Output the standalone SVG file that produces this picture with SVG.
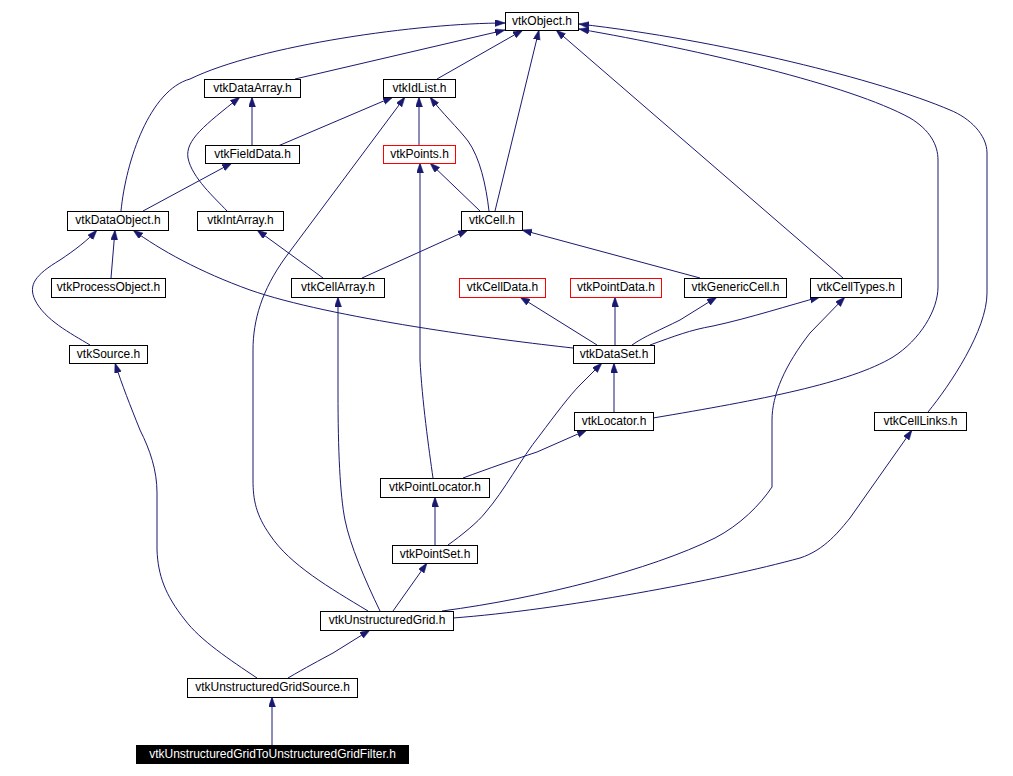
<svg xmlns="http://www.w3.org/2000/svg" width="1013" height="776" viewBox="0 0 1013 776">
<style>
.n rect{fill:#fff;stroke:#000;stroke-width:1}
.n.r rect{stroke:#f00}
.n text{font-family:"Liberation Sans",Arial,sans-serif;font-size:12px;text-anchor:middle;fill:#000}
.n.k rect{fill:#000;stroke:#000}
.n.k text{fill:#fff}
#edges path{fill:none;stroke:#191970;stroke-width:1;marker-end:url(#a)}
</style>
<defs>
<marker id="a" markerUnits="userSpaceOnUse" markerWidth="11" markerHeight="8" refX="10" refY="3.5" orient="auto">
<path d="M0,0 L10,3.5 L0,7 z" fill="#191970" stroke="#191970" stroke-width="0.5"/>
</marker>
</defs>
<rect width="1013" height="776" fill="#fff"/>
<g id="edges">
<path d="M121,211 C126,160 150,90 190,79 C260,45 420,23 505,23"/>
<path d="M295,79 L505,30"/>
<path d="M437,79 L523,30"/>
<path d="M495,211 L539,30"/>
<path d="M843,278 L556,30"/>
<path d="M653,418 C760,400 850,383 893,357 C920,340 938,310 938,287 L938,160 C938,145 930,130 910,118 C850,85 700,50 579,29"/>
<path d="M928,412 C950,385 987,330 987,293 L987,153 C987,135 970,118 950,110 C880,80 720,40 579,24"/>
<path d="M252,146 L252,97"/>
<path d="M278,146 L393,97"/>
<path d="M227,211 C215,198 192,178 188,158 C185,140 205,125 240,97"/>
<path d="M419,146 L419,97"/>
<path d="M489,211 C486,185 480,158 468,141 C458,128 442,113 430,97"/>
<path d="M480,211 L430,163"/>
<path d="M368,611 C330,588 290,565 270,535 C256,515 253,500 253,480 L253,350 C253,320 262,290 285,258 L405,97"/>
<path d="M143,211 L232,163"/>
<path d="M111,278 L115,230"/>
<path d="M90,345 C70,333 45,320 35,300 C28,285 35,275 60,260 C75,250 88,240 97,230"/>
<path d="M573,348 C500,340 330,318 250,290 C200,272 160,250 133,230"/>
<path d="M323,278 L257,230"/>
<path d="M362,278 L468,230"/>
<path d="M380,611 C365,580 350,545 345,520 C340,495 338,450 338,393 L338,297"/>
<path d="M433,478 C429,450 422,400 420,360 L420,163"/>
<path d="M700,278 L522,230"/>
<path d="M597,345 L520,297"/>
<path d="M615,345 L615,297"/>
<path d="M632,345 C645,336 660,330 680,320 L717,297"/>
<path d="M650,345 C675,336 690,330 713,326 C750,318 790,305 820,297"/>
<path d="M442,611 C540,598 650,570 715,538 C740,525 760,505 772,487 L772,420 C772,395 785,365 810,333 L845,297"/>
<path d="M453,618 C560,610 720,580 800,558 C825,550 840,530 850,518 L912,430"/>
<path d="M614,412 L614,363"/>
<path d="M463,478 C490,468 510,461 537,452 L587,430"/>
<path d="M448,545 C462,535 478,522 485,513 C505,490 520,460 540,435 C555,415 570,395 580,385 L602,363"/>
<path d="M435,545 L435,497"/>
<path d="M393,611 L427,563"/>
<path d="M257,678 C230,660 200,640 185,620 C165,595 158,575 157,550 L157,493 C157,470 150,450 140,430 C130,405 122,385 115,363"/>
<path d="M288,678 C305,668 320,660 333,653 L370,630"/>
<path d="M272,745 L272,697"/>
</g>
<g id="vtkObject" class="n"><rect x="505.5" y="12.5" width="73" height="18"/><text x="542" y="24.5">vtkObject.h</text></g>
<g id="vtkDataArray" class="n"><rect x="204.5" y="79.5" width="96" height="18"/><text x="252.5" y="91.5">vtkDataArray.h</text></g>
<g id="vtkIdList" class="n"><rect x="383.5" y="79.5" width="72" height="18"/><text x="419.5" y="91.5">vtkIdList.h</text></g>
<g id="vtkFieldData" class="n"><rect x="205.5" y="145.5" width="94" height="18"/><text x="252.5" y="157.5">vtkFieldData.h</text></g>
<g id="vtkPoints" class="n r"><rect x="383.5" y="145.5" width="72" height="18"/><text x="419.5" y="157.5">vtkPoints.h</text></g>
<g id="vtkDataObject" class="n"><rect x="67.5" y="211.5" width="101" height="19"/><text x="118" y="224">vtkDataObject.h</text></g>
<g id="vtkIntArray" class="n"><rect x="197.5" y="211.5" width="86" height="19"/><text x="240.5" y="224">vtkIntArray.h</text></g>
<g id="vtkCell" class="n"><rect x="461.5" y="211.5" width="61" height="19"/><text x="492" y="224">vtkCell.h</text></g>
<g id="vtkProcessObject" class="n"><rect x="51.5" y="278.5" width="114" height="19"/><text x="108.5" y="291">vtkProcessObject.h</text></g>
<g id="vtkCellArray" class="n"><rect x="291.5" y="278.5" width="93" height="19"/><text x="338" y="291">vtkCellArray.h</text></g>
<g id="vtkCellData" class="n r"><rect x="459.5" y="278.5" width="86" height="19"/><text x="502.5" y="291">vtkCellData.h</text></g>
<g id="vtkPointData" class="n r"><rect x="570.5" y="278.5" width="91" height="19"/><text x="616" y="291">vtkPointData.h</text></g>
<g id="vtkGenericCell" class="n"><rect x="684.5" y="278.5" width="102" height="19"/><text x="735.5" y="291">vtkGenericCell.h</text></g>
<g id="vtkCellTypes" class="n"><rect x="810.5" y="278.5" width="91" height="19"/><text x="856" y="291">vtkCellTypes.h</text></g>
<g id="vtkSource" class="n"><rect x="69.5" y="345.5" width="78" height="18"/><text x="108.5" y="357.5">vtkSource.h</text></g>
<g id="vtkDataSet" class="n"><rect x="573.5" y="345.5" width="81" height="18"/><text x="614" y="357.5">vtkDataSet.h</text></g>
<g id="vtkLocator" class="n"><rect x="574.5" y="412.5" width="79" height="18"/><text x="614" y="424.5">vtkLocator.h</text></g>
<g id="vtkCellLinks" class="n"><rect x="874.5" y="412.5" width="92" height="18"/><text x="920.5" y="424.5">vtkCellLinks.h</text></g>
<g id="vtkPointLocator" class="n"><rect x="380.5" y="478.5" width="109" height="19"/><text x="435" y="491">vtkPointLocator.h</text></g>
<g id="vtkPointSet" class="n"><rect x="392.5" y="545.5" width="85" height="18"/><text x="435" y="557.5">vtkPointSet.h</text></g>
<g id="vtkUnstructuredGrid" class="n"><rect x="320.5" y="611.5" width="133" height="19"/><text x="387" y="624">vtkUnstructuredGrid.h</text></g>
<g id="vtkUnstructuredGridSource" class="n"><rect x="187.5" y="678.5" width="170" height="19"/><text x="272.5" y="691">vtkUnstructuredGridSource.h</text></g>
<g id="vtkUnstructuredGridToUnstructuredGridFilter" class="n k"><rect x="136.5" y="745.5" width="272" height="18"/><text x="272.5" y="757.5">vtkUnstructuredGridToUnstructuredGridFilter.h</text></g>
</svg>
